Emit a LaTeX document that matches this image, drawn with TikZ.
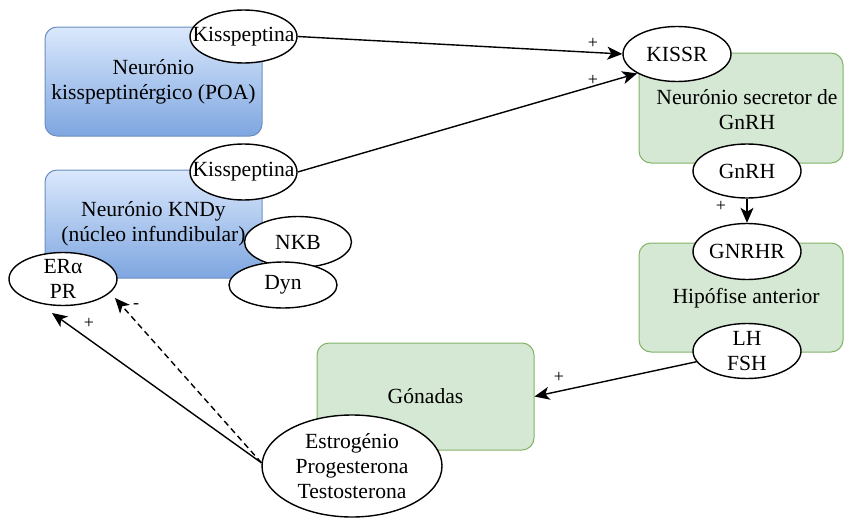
\documentclass[tikz,border=0pt]{standalone}
\usepackage{fontspec}
\setmainfont{Liberation Serif}
\usetikzlibrary{shapes.geometric,arrows.meta}
\definecolor{bluetop}{HTML}{DAE8FC}
\definecolor{bluebot}{HTML}{7EA6E0}
\definecolor{bluedraw}{HTML}{6C8EBF}
\definecolor{greenfill}{HTML}{D5E8D4}
\definecolor{greendraw}{HTML}{82B366}
\begin{document}
\begin{tikzpicture}[x=1pt,y=-1pt,
  txt/.style={font=\fontsize{21.6}{25}\selectfont, align=center},
  bluebox/.style={rounded corners=12pt, draw=bluedraw, line width=1pt, top color=bluetop, bottom color=bluebot, inner sep=0pt, txt},
  greenbox/.style={rounded corners=12pt, draw=greendraw, line width=1pt, fill=greenfill, inner sep=0pt, txt},
  oval/.style={ellipse, draw=black, line width=1.4pt, fill=white, inner sep=0pt},
  arr/.style={line width=1.4pt, -{Stealth[length=15pt,width=13pt,inset=4pt]}},
  sign/.style={font=\fontsize{18}{18}\selectfont, inner sep=0pt}]
\useasboundingbox (0,0) rectangle (846,522);

% boxes
\node[bluebox, minimum width=217pt, minimum height=109pt] (poa) at (153.5,81.5) {Neurónio\\kisspeptinérgico (POA)};
\node[bluebox, minimum width=217pt, minimum height=108pt] (kndy) at (153.5,224) {Neurónio KNDy\\(núcleo infundibular)};
\node[greenbox, minimum width=204pt, minimum height=110pt] (gnrhn) at (741,108) {};
\node[txt] (gnrhnt) at (747,110) {Neurónio secretor de\\GnRH};
\node[greenbox, minimum width=204pt, minimum height=109pt] (hip) at (741,297.5) {};
\node[txt] (hipt) at (746,298) {Hipófise anterior};
\node[greenbox, minimum width=217pt, minimum height=107pt] (gon) at (425.5,396.5) {Gónadas};

% ellipses
\node[oval, minimum width=107pt, minimum height=53pt, label={[txt]center:Kisspeptina}] (kp1) at (243.5,36.5) {};
\node[oval, minimum width=107pt, minimum height=56pt, label={[txt]center:Kisspeptina}] (kp2) at (243.5,172) {};
\node[oval, minimum width=107pt, minimum height=51pt, label={[txt]center:NKB}] (nkb) at (298,242) {};
\node[oval, minimum width=108pt, minimum height=46pt, label={[txt]center:Dyn}] (dyn) at (283,285) {};
\node[oval, minimum width=108pt, minimum height=53pt, label={[txt]center:ERα\\PR}] (erpr) at (63,279) {};
\node[oval, minimum width=108pt, minimum height=55pt, label={[txt]center:KISSR}] (kissr) at (677,54) {};
\node[oval, minimum width=108pt, minimum height=54pt, label={[txt]center:GnRH}] (gnrh) at (747,171) {};
\node[oval, minimum width=108pt, minimum height=56pt, label={[txt]center:GNRHR}] (gnrhr) at (747,251.5) {};
\node[oval, minimum width=108pt, minimum height=55pt, label={[txt]center:LH\\FSH}] (lhfsh) at (747,351) {};
\node[oval, minimum width=180pt, minimum height=102pt, label={[txt]center:Estrogénio\\Progesterona\\Testosterona}] (est) at (352,466) {};

\coordinate (erA) at (52,313);
\coordinate (erB) at (115,298);

% connectors
\draw[arr] (kp1.east) -- (kissr.west);
\draw[arr] (kp2.east) -- (kissr.206);
\draw[arr] (gnrh.south) -- (gnrhr.north);
\draw[arr] (lhfsh.192) -- (gon.east);
\draw[arr] (est.178) -- (erA);
\draw[arr, dash pattern=on 6pt off 4pt] (est.178) -- (erB);

% signs
\node[sign] (s1) at (593,43) {+};
\node[sign] (s2) at (593,80) {+};
\node[sign] (s3) at (721,206) {+};
\node[sign] (s4) at (559,377) {+};
\node[sign] (s5) at (89,323) {+};
\node[sign] (s6) at (136,306) {-};
\end{tikzpicture}
\end{document}
